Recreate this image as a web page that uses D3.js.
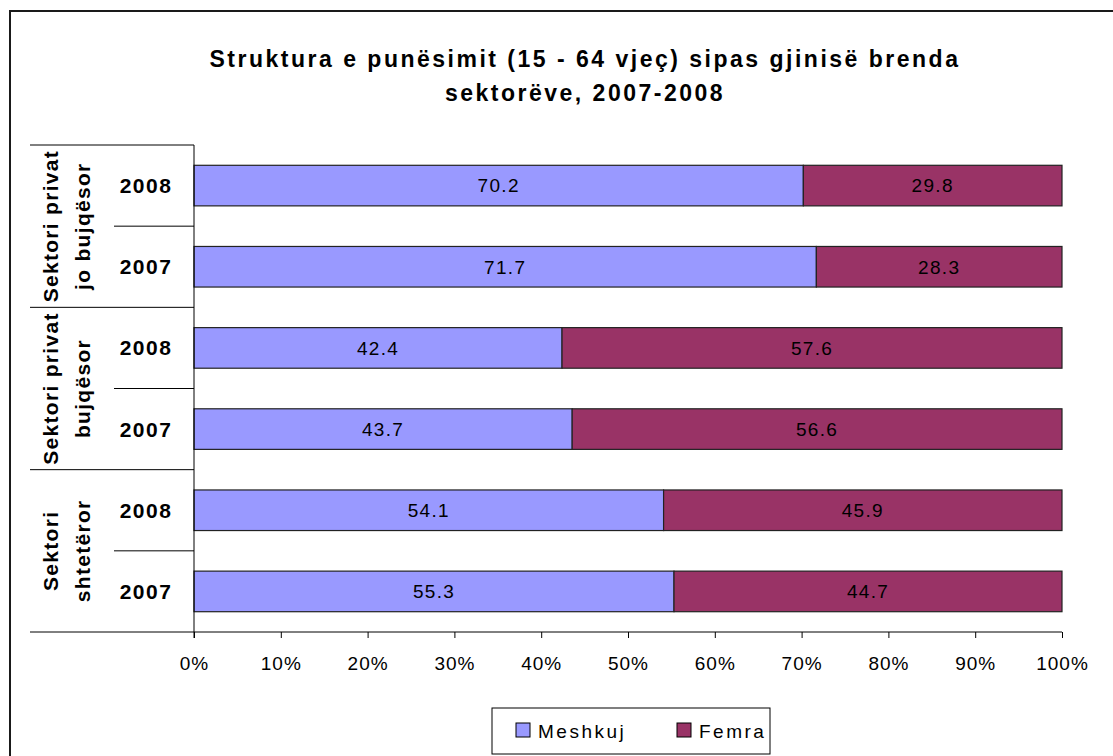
<!DOCTYPE html>
<html>
<head>
<meta charset="utf-8">
<script src="https://cdn.jsdelivr.net/npm/d3@7"></script>
<style>
  body { margin: 0; background: #fff; }
  svg text { font-family: Arial, "Liberation Sans", sans-serif; }
</style>
</head>
<body>
<div id="chart"></div>
<script>
// data
var titleLines = ["Struktura e punësimit (15 - 64 vjeç) sipas gjinisë brenda", "sektorëve, 2007-2008"];
var sectors = [["Sektori privat", "jo bujqësor"], ["Sektori privat", "bujqësor"], ["Sektori", "shtetëror"]];
var years = ["2008", "2007"];
var series = ["Meshkuj", "Femra"];
var meshkuj = [70.2, 71.7, 42.4, 43.7, 54.1, 55.3];
var femra = [29.8, 28.3, 57.6, 56.6, 45.9, 44.7];
var tickValues = [0, 0.1, 0.2, 0.3, 0.4, 0.5, 0.6, 0.7, 0.8, 0.9, 1];
var colors = ["#9999ff", "#993366"];

var W = 1113, H = 756;
var pLeft = 194, pRight = 1062, pTop = 145, pBottom = 632;

var rows = [];
sectors.forEach(function(s, i) {
  years.forEach(function(yr, j) {
    var k = i * years.length + j;
    rows.push({key: i + "-" + yr, sector: i, year: yr, Meshkuj: meshkuj[k], Femra: femra[k]});
  });
});

var svg = d3.select("#chart").append("svg")
  .attr("width", W)
  .attr("height", H);

svg.append("rect").attr("width", W).attr("height", H).attr("fill", "#fff");

// outer chart border
svg.append("rect")
  .attr("x", 10).attr("y", 11)
  .attr("width", 1200).attr("height", 800)
  .attr("fill", "none")
  .attr("stroke", "#1a1a1a")
  .attr("stroke-width", 2);

// title
svg.selectAll(".title").data(titleLines).enter().append("text")
  .attr("class", "title")
  .attr("x", 585)
  .attr("y", function(d, i) { return 67 + i * 34; })
  .attr("text-anchor", "middle")
  .attr("style", "font-size: 23px; font-weight: bold; letter-spacing: 2.5px")
  .attr("fill", "#000")
  .text(function(d) { return d; });

var x = d3.scaleLinear().domain([0, 1]).range([pLeft, pRight]);
var y = d3.scaleBand()
  .domain(rows.map(function(d) { return d.key; }))
  .range([pTop, pBottom])
  .paddingInner(0.5)
  .paddingOuter(0.25);
var step = y.step();

var stacked = d3.stack().keys(series).offset(d3.stackOffsetExpand)(rows);

var layers = svg.selectAll(".layer").data(stacked).enter().append("g")
  .attr("class", "layer")
  .attr("fill", function(d, i) { return colors[i]; });

layers.selectAll("rect").data(function(d) { return d; }).enter().append("rect")
  .attr("x", function(d) { return x(d[0]); })
  .attr("y", function(d) { return y(d.data.key); })
  .attr("width", function(d) { return x(d[1]) - x(d[0]); })
  .attr("height", y.bandwidth())
  .attr("stroke", "#222")
  .attr("stroke-width", 1.2);

// value labels
stacked.forEach(function(layer, li) {
  svg.selectAll(".val" + li).data(layer).enter().append("text")
    .attr("x", function(d) { return (x(d[0]) + x(d[1])) / 2; })
    .attr("y", function(d) { return y(d.data.key) + y.bandwidth() / 2; })
    .attr("dy", "0.36em")
    .attr("text-anchor", "middle")
    .attr("style", "font-size: 19px; letter-spacing: 1.3px")
    .attr("fill", "#000")
    .text(function(d) { return d.data[layer.key].toFixed(1); });
});

// x axis
var xAxis = svg.append("g")
  .attr("transform", "translate(0," + pBottom + ")")
  .call(d3.axisBottom(x).tickValues(tickValues).tickSize(6).tickFormat(d3.format(".0%")));
xAxis.select(".domain").attr("stroke", "#000").attr("d", "M" + pLeft + ",0H" + pRight);
xAxis.selectAll(".tick line").attr("stroke", "#000");
xAxis.selectAll(".tick text")
  .attr("y", 38).attr("dy", 0)
  .attr("style", "font-size: 19px; letter-spacing: 1px; font-family: Arial, 'Liberation Sans', sans-serif")
  .attr("fill", "#000");

// y axis line
svg.append("line")
  .attr("x1", pLeft).attr("x2", pLeft)
  .attr("y1", pTop).attr("y2", pBottom + 6)
  .attr("stroke", "#000");

// category separators
var bounds = [];
rows.forEach(function(d, i) {
  bounds.push({y: y(d.key) - step * 0.25, major: i % years.length === 0});
});
bounds.push({y: pBottom, major: true});
svg.selectAll(".sep").data(bounds).enter().append("line")
  .attr("x1", function(d) { return d.major ? 30 : 114; })
  .attr("x2", pLeft)
  .attr("y1", function(d) { return d.y; })
  .attr("y2", function(d) { return d.y; })
  .attr("stroke", "#000");

// year labels
svg.selectAll(".year").data(rows).enter().append("text")
  .attr("x", 146)
  .attr("y", function(d) { return y(d.key) + y.bandwidth() / 2; })
  .attr("dy", "0.36em")
  .attr("text-anchor", "middle")
  .attr("style", "font-size: 21px; font-weight: bold; letter-spacing: 1.5px")
  .attr("fill", "#000")
  .text(function(d) { return d.year; });

// sector labels, rotated
sectors.forEach(function(s, i) {
  var y0 = y(i + "-" + years[0]) - step * 0.25;
  var cy = y0 + step * years.length / 2;
  s.forEach(function(line, li) {
    svg.append("text")
      .attr("transform", "translate(" + (58 + li * 32) + "," + cy + ") rotate(-90)")
      .attr("text-anchor", "middle")
      .attr("style", "font-size: 21px; font-weight: bold; letter-spacing: 1.3px")
      .attr("fill", "#000")
      .text(line);
  });
});

// legend
var lg = svg.append("g");
lg.append("rect")
  .attr("x", 492).attr("y", 708)
  .attr("width", 278).attr("height", 46)
  .attr("fill", "#fff")
  .attr("stroke", "#000");
var legendX = [516, 677];
series.forEach(function(s, i) {
  lg.append("rect")
    .attr("x", legendX[i]).attr("y", 723)
    .attr("width", 14).attr("height", 14)
    .attr("fill", colors[i])
    .attr("stroke", "#000");
  lg.append("text")
    .attr("x", legendX[i] + 22).attr("y", 738)
    .attr("style", "font-size: 19px; letter-spacing: 2.5px")
    .attr("fill", "#000")
    .text(s);
});
</script>
</body>
</html>
